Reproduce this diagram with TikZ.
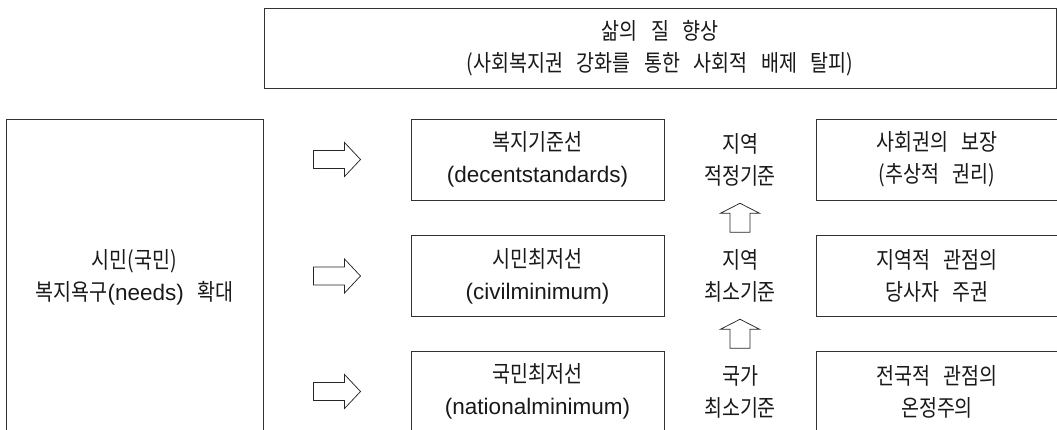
\documentclass[tikz,border=0pt]{standalone}
\usepackage{fontspec}
\setmainfont{Liberation Sans}
\newfontfamily\krfont[FakeStretch=0.85]{Noto Sans CJK KR}
\newfontfamily\latfont{Liberation Sans}
\usetikzlibrary{calc}
\newcommand\krtext{\krfont\fontsize{23}{32}\selectfont\spaceskip=13.5pt\relax}
\newcommand\lt[1]{{\latfont\fontsize{22.5}{32}\selectfont #1}}
\tikzset{
  box/.style={draw=black!80, line width=0.8pt, align=center, inner sep=0pt, font=\krtext, text=black!90},
  lbl/.style={align=center, inner sep=0pt, font=\krtext, text=black!90},
  arrline/.style={draw=black!85, line width=0.75pt, line join=miter},
  rarr/.pic={\draw[arrline] (-23.5,-9) -- (7.5,-9) -- (7.5,-17) -- (23.5,0) -- (7.5,17) -- (7.5,9) -- (-23.5,9) -- cycle;},
  uarr/.pic={\draw[arrline] (-10,14.5) -- (-10,-4.5) -- (-19.5,-4.5) -- (0,-14.5) -- (19.5,-4.5) -- (10,-4.5) -- (10,14.5) -- cycle;}
}
\begin{document}
\begin{tikzpicture}[x=1pt,y=-1pt]
\useasboundingbox (0,0) rectangle (1057,429);
\clip (0,0) rectangle (1057,429);
\node[box, minimum width=792, minimum height=80] (goal) at (660,48) {삶의 질 향상\\(사회복지권 강화를 통한 사회적 배제 탈피)};
\node[box, minimum width=257, minimum height=316] (citizen) at (134.5,277) {시민(국민)\\복지욕구\lt{(needs)} 확대};
\node[box, minimum width=253, minimum height=81] (m1) at (537.5,159.5) {복지기준선\\\lt{(decentstandards)}};
\node[box, minimum width=253, minimum height=81] (m2) at (537.5,276) {시민최저선\\\lt{(civilminimum)}};
\node[box, minimum width=253, minimum height=81] (m3) at (537.5,391.5) {국민최저선\\\lt{(nationalminimum)}};
\node[lbl] (l1) at (740,159.5) {지역\\적정기준};
\node[lbl] (l2) at (740,276) {지역\\최소기준};
\node[lbl] (l3) at (740,391.5) {국가\\최소기준};
\node[box, minimum width=242, minimum height=81] (r1) at (937,159.5) {사회권의 보장\\(추상적 권리)};
\node[box, minimum width=242, minimum height=81] (r2) at (937,276) {지역적 관점의\\당사자 주권};
\node[box, minimum width=242, minimum height=81] (r3) at (937,391.5) {전국적 관점의\\온정주의};
\pic at ($(citizen.east |- m1)!0.5!(m1.west)$) {rarr};
\pic at ($(citizen.east |- m2)!0.5!(m2.west)$) {rarr};
\pic at ($(citizen.east |- m3)!0.5!(m3.west)$) {rarr};
\pic at ($(l1)!0.5!(l2)$) {uarr};
\pic at ($(l2)!0.5!(l3)$) {uarr};
\end{tikzpicture}
\end{document}
